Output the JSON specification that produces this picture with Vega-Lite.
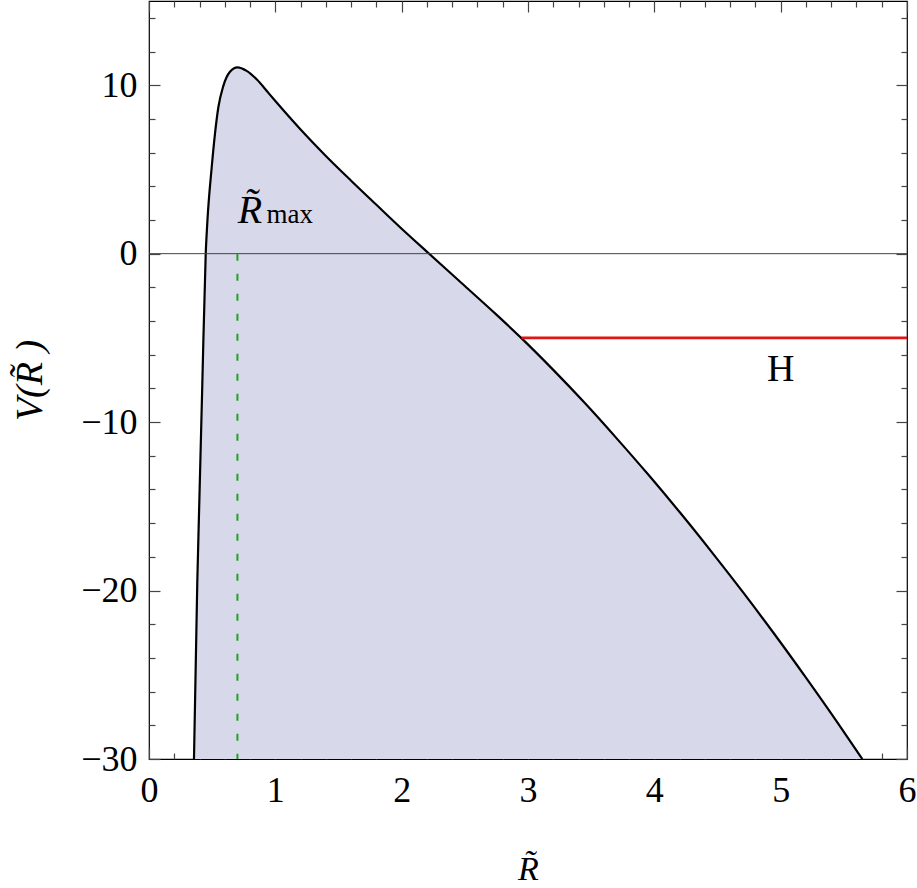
{
  "$schema": "https://vega.github.io/schema/vega-lite/v6.json",
  "width": 758,
  "height": 758,
  "autosize": "none",
  "padding": {"left": 149, "top": 1, "right": 10, "bottom": 129},
  "background": "white",
  "config": {
    "view": {"stroke": "#000", "strokeWidth": 1.2},
    "font": "Liberation Serif",
    "axis": {"grid": false, "domain": false, "zindex": 1, "tickColor": "#444", "tickWidth": 1.2,
             "labelFont": "Liberation Serif", "labelFontSize": 36, "labelColor": "#000",
             "titleFont": "Liberation Serif", "titleFontSize": 38, "titleFontWeight": "normal", "titleColor": "#000"}
  },
  "datasets": {
    "curve": [
      {"R": 0.356, "V": -30},
      {"R": 0.382, "V": -19.6},
      {"R": 0.398, "V": -14.8},
      {"R": 0.422, "V": -7.74},
      {"R": 0.449, "V": 0},
      {"R": 0.462, "V": 1.9},
      {"R": 0.496, "V": 5.1},
      {"R": 0.522, "V": 7.1},
      {"R": 0.549, "V": 8.69},
      {"R": 0.588, "V": 9.95},
      {"R": 0.641, "V": 10.8},
      {"R": 0.70, "V": 11.06},
      {"R": 0.773, "V": 10.85},
      {"R": 0.852, "V": 10.35},
      {"R": 0.95, "V": 9.5},
      {"R": 1.05, "V": 8.63},
      {"R": 1.2, "V": 7.37},
      {"R": 1.4, "V": 5.8},
      {"R": 1.6, "V": 4.33},
      {"R": 1.8, "V": 2.9},
      {"R": 2.0, "V": 1.48},
      {"R": 2.217, "V": 0},
      {"R": 2.5, "V": -1.92},
      {"R": 2.75, "V": -3.62},
      {"R": 2.95, "V": -5.03},
      {"R": 3.2, "V": -6.9},
      {"R": 3.45, "V": -8.87},
      {"R": 3.7, "V": -10.95},
      {"R": 3.95, "V": -13.1},
      {"R": 4.2, "V": -15.34},
      {"R": 4.45, "V": -17.67},
      {"R": 4.7, "V": -20.08},
      {"R": 4.95, "V": -22.58},
      {"R": 5.2, "V": -25.17},
      {"R": 5.45, "V": -27.84},
      {"R": 5.646, "V": -30}
    ]
  },
  "resolve": {"scale": {"x": "shared", "y": "shared"}, "axis": {"x": "independent", "y": "independent"}},
  "layer": [
    {
      "data": {"name": "curve"},
      "mark": {"type": "area", "color": "#d8d8eb", "clip": true, "orient": "vertical", "interpolate": "monotone"},
      "encoding": {
        "x": {"field": "R", "type": "quantitative", "sort": null,
              "scale": {"domain": [0, 6], "nice": false, "zero": false},
              "axis": {"orient": "bottom", "values": [0, 1, 2, 3, 4, 5, 6], "offset": -11, "tickSize": 11, "labelPadding": 14, "title": "R̃", "titleFontStyle": "italic", "titleFontSize": 34, "titlePadding": 44, "labelFlush": false, "labelOverlap": false}},
        "y": {"field": "V", "type": "quantitative",
              "scale": {"domain": [-30, 15], "nice": false, "zero": false},
              "axis": {"orient": "left", "values": [-30, -20, -10, 0, 10], "offset": -11, "tickSize": 11, "labelPadding": 12, "title": "V(R̃ )", "titleFontStyle": "italic", "titlePadding": 31, "labelFlush": false, "labelOverlap": false}},
        "y2": {"datum": -30}
      }
    },
    {
      "data": {"name": "curve"},
      "mark": {"type": "line", "color": "#000", "strokeWidth": 2.2, "clip": true, "interpolate": "monotone"},
      "encoding": {
        "x": {"field": "R", "type": "quantitative", "sort": null,
              "axis": {"orient": "bottom", "values": [0.2,0.4,0.6,0.8,1.2,1.4,1.6,1.8,2.2,2.4,2.6,2.8,3.2,3.4,3.6,3.8,4.2,4.4,4.6,4.8,5.2,5.4,5.6,5.8], "offset": -6, "tickSize": 6, "labels": false, "title": null}},
        "y": {"field": "V", "type": "quantitative",
              "axis": {"orient": "left", "values": [-28,-26,-24,-22,-18,-16,-14,-12,-8,-6,-4,-2,2,4,6,8,12,14], "offset": -6, "tickSize": 6, "labels": false, "title": null}}
      }
    },
    {
      "data": {"values": [{"V": 0}]},
      "mark": {"type": "rule", "color": "#444", "strokeWidth": 1},
      "encoding": {"y": {"field": "V", "type": "quantitative", "axis": null}}
    },
    {
      "data": {"values": [{"R": 0.70, "V": 0, "V2": -30}]},
      "mark": {"type": "rule", "color": "#22a022", "strokeWidth": 2, "strokeDash": [7, 13]},
      "encoding": {
        "x": {"field": "R", "type": "quantitative",
              "axis": {"orient": "top", "values": [0, 1, 2, 3, 4, 5, 6], "offset": -11, "tickSize": 11, "labels": false, "title": null}},
        "y": {"field": "V", "type": "quantitative",
              "axis": {"orient": "right", "values": [-30, -20, -10, 0, 10], "offset": -11, "tickSize": 11, "labels": false, "title": null}},
        "y2": {"field": "V2"}
      }
    },
    {
      "data": {"values": [{"R": 2.95, "R2": 6, "V": -5}]},
      "mark": {"type": "rule", "color": "#e01515", "strokeWidth": 2.6},
      "encoding": {
        "x": {"field": "R", "type": "quantitative",
              "axis": {"orient": "top", "values": [0.2,0.4,0.6,0.8,1.2,1.4,1.6,1.8,2.2,2.4,2.6,2.8,3.2,3.4,3.6,3.8,4.2,4.4,4.6,4.8,5.2,5.4,5.6,5.8], "offset": -6, "tickSize": 6, "labels": false, "title": null}},
        "x2": {"field": "R2"},
        "y": {"field": "V", "type": "quantitative",
              "axis": {"orient": "right", "values": [-28,-26,-24,-22,-18,-16,-14,-12,-8,-6,-4,-2,2,4,6,8,12,14], "offset": -6, "tickSize": 6, "labels": false, "title": null}}
      }
    },
    {
      "data": {"values": [{"R": 0.80, "V": 1.84, "t": "R̃"}]},
      "mark": {"type": "text", "fontSize": 40, "fontStyle": "italic", "align": "center", "baseline": "alphabetic", "color": "#000"},
      "encoding": {
        "x": {"field": "R", "type": "quantitative", "axis": null},
        "y": {"field": "V", "type": "quantitative", "axis": null},
        "text": {"field": "t"}
      }
    },
    {
      "data": {"values": [{"R": 0.93, "V": 1.84, "t": "max"}]},
      "mark": {"type": "text", "fontSize": 27, "align": "left", "baseline": "alphabetic", "color": "#000"},
      "encoding": {
        "x": {"field": "R", "type": "quantitative", "axis": null},
        "y": {"field": "V", "type": "quantitative", "axis": null},
        "text": {"field": "t"}
      }
    },
    {
      "data": {"values": [{"R": 5.0, "V": -7.58, "t": "H"}]},
      "mark": {"type": "text", "fontSize": 38, "align": "center", "baseline": "alphabetic", "color": "#000"},
      "encoding": {
        "x": {"field": "R", "type": "quantitative", "axis": null},
        "y": {"field": "V", "type": "quantitative", "axis": null},
        "text": {"field": "t"}
      }
    }
  ]
}
